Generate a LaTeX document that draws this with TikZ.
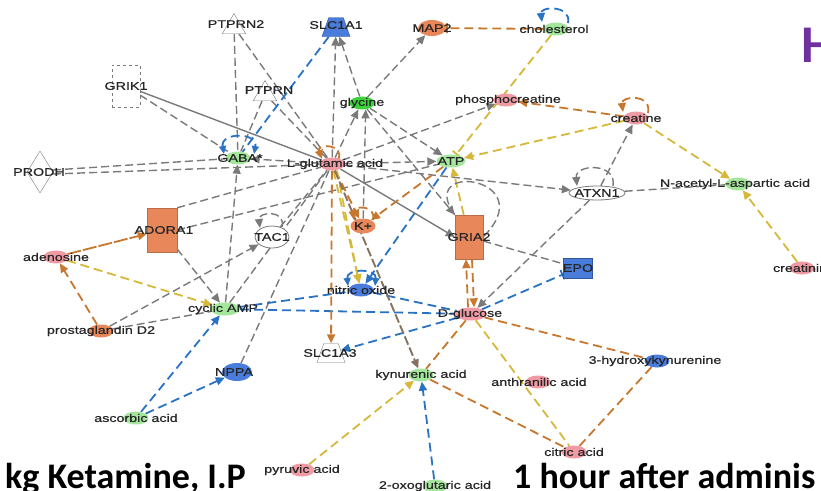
\documentclass[tikz,border=0pt]{standalone}
\usepackage{fontspec}
\setmainfont{Liberation Sans}
\newfontfamily\labfont[FakeStretch=1.3,FakeBold=0.6]{Liberation Sans}
\newfontfamily\bigfont{Carlito}
\usetikzlibrary{shapes.geometric,arrows.meta}
\pgfdeclarelayer{bg}
\pgfsetlayers{bg,main}
\definecolor{cgray}{HTML}{7A7A7A}
\definecolor{cblue}{HTML}{2A72C4}
\definecolor{corange}{HTML}{C8782E}
\definecolor{cyellow}{HTML}{D6B83A}
\definecolor{cbrown}{HTML}{857260}
\definecolor{fpink}{HTML}{F09AA4}
\definecolor{fgreen}{HTML}{A4E69C}
\definecolor{fgreenb}{HTML}{3CD23C}
\definecolor{fblue}{HTML}{4A7CDC}
\definecolor{forange}{HTML}{E8875A}
\definecolor{cpurple}{HTML}{7030A0}
\tikzset{
  lab/.style={font=\labfont\fontsize{11}{12}\selectfont, text=black!85, inner sep=0pt},
  met/.style={ellipse, minimum width=25pt, minimum height=13pt, inner sep=0pt},
  tri/.style={regular polygon, regular polygon sides=3, draw=cgray, fill=white, minimum size=27pt, inner sep=0pt},
  trap/.style={trapezium, trapezium left angle=65, trapezium right angle=65, trapezium stretches=true, minimum width=28pt, minimum height=19pt, inner sep=2pt},
  genebox/.style={rectangle, inner sep=0pt},
  eg/.style={draw=cgray, line width=1.4pt, dash pattern=on 8pt off 4pt},
  egs/.style={draw=cgray, line width=1.4pt},
  eb/.style={draw=cblue, line width=1.8pt, dash pattern=on 9pt off 5pt},
  eo/.style={draw=corange, line width=1.8pt, dash pattern=on 9pt off 5pt},
  ey/.style={draw=cyellow, line width=1.8pt, dash pattern=on 9pt off 5pt},
  ebr/.style={draw=cbrown, line width=1.9pt, dash pattern=on 9pt off 3pt},
  arr/.style={-{Triangle[length=9pt,width=8pt]}},
  arrb/.style={{Triangle[length=8pt,width=7pt]}-{Triangle[length=8pt,width=7pt]}},
  tbar/.style={-{Bar[width=10pt]}},
}
\begin{document}
\begin{tikzpicture}[x=1pt,y=-1pt]
\useasboundingbox (0,0) rectangle (821,490);
\begin{pgfonlayer}{bg}
\fill[white] (0,0) rectangle (821,490);
\end{pgfonlayer}
\clip (0,0) rectangle (821,490);

% nodes
\node[tri, label={[lab,xshift=2pt,yshift=3pt]center:PTPRN2}] (ptprn2) at (234,27) {};
\node[trap, fill=fblue, draw=fblue!70!black, label={[lab,yshift=2pt]center:SLC1A1}] (slc1a1) at (336,27) {};
\node[met, fill=forange, minimum width=28pt, minimum height=16pt, label={[lab]center:MAP2}] (map2) at (432,28) {};
\node[met, fill=fgreen, label={[lab,xshift=-2pt]center:cholesterol}] (chol) at (556,29) {};
\node[genebox, draw=cgray, dashed, fill=white, minimum width=28pt, minimum height=42pt, label={[lab]center:GRIK1}] (grik1) at (126,86) {};
\node[tri, label={[lab,xshift=4pt,yshift=4pt]center:PTPRN}] (ptprn) at (265,94) {};
\node[met, fill=fgreenb, label={[lab]center:glycine}] (gly) at (362,103) {};
\node[met, fill=fpink, label={[lab,xshift=2pt]center:phosphocreatine}] (pcr) at (506,100) {};
\node[met, fill=fpink, label={[lab]center:creatine}] (cre) at (636,118) {};
\node[diamond, draw=cgray, fill=white, minimum width=26pt, minimum height=42pt, inner sep=0pt, label={[lab,xshift=-1pt]center:PRODH}] (prodh) at (40,172) {};
\node[met, fill=fgreen, label={[lab,xshift=2pt]center:GABA*}] (gaba) at (238,158) {};
\node[met, fill=fpink, label={[lab,xshift=3pt]center:L-glutamic acid}] (glu) at (332,164) {};
\node[met, fill=fgreen, minimum width=29pt, label={[lab]center:ATP}] (atp) at (451,161) {};
\node[met, fill=white, draw=cgray, line width=0.8pt, minimum width=56pt, minimum height=14pt, label={[lab]center:ATXN1}] (atxn1) at (597,193) {};
\node[met, fill=fgreen, label={[lab,xshift=-3pt]center:N-acetyl-L-aspartic acid}] (naa) at (738,184) {};
\node[genebox, fill=forange, draw=forange!80!black, minimum width=30pt, minimum height=44pt, label={[lab,xshift=2pt]center:ADORA1}] (adora1) at (162,230) {};
\node[ellipse, draw=cgray, line width=0.8pt, fill=white, minimum width=34pt, minimum height=22pt, inner sep=0pt, label={[lab]center:TAC1}] (tac1) at (272,237) {};
\node[met, fill=forange, minimum height=15pt, label={[lab]center:K+}] (kp) at (363,226) {};
\node[genebox, fill=forange, draw=forange!80!black, minimum width=28pt, minimum height=44pt, label={[lab]center:GRIA2}] (gria2) at (469,237) {};
\node[met, fill=fpink, label={[lab]center:adenosine}] (ade) at (56,257) {};
\node[genebox, fill=fblue, draw=fblue!70!black, minimum width=29pt, minimum height=20pt, label={[lab]center:EPO}] (epo) at (578,268) {};
\node[met, fill=fpink, label={[lab,xshift=2pt]center:creatinine}] (crn) at (802,268) {};
\node[met, fill=fblue, label={[lab]center:nitric oxide}] (no) at (361,290) {};
\node[met, fill=fgreen, minimum width=30pt, label={[lab,xshift=-2pt]center:cyclic AMP}] (camp) at (225,309) {};
\node[met, fill=forange, label={[lab]center:prostaglandin D2}] (pgd2) at (101,331) {};
\node[met, fill=fpink, minimum width=31pt, label={[lab,xshift=-1pt]center:D-glucose}] (glc) at (471,314) {};
\node[trap, fill=white, draw=cgray, label={[lab,xshift=-1pt]center:SLC1A3}] (slc1a3) at (331,353) {};
\node[met, fill=fblue, label={[lab,xshift=-2pt]center:3-hydroxykynurenine}] (hk) at (657,361) {};
\node[met, fill=fblue, minimum width=30pt, minimum height=18pt, label={[lab,xshift=-3pt]center:NPPA}] (nppa) at (237,372) {};
\node[met, fill=fgreen, label={[lab]center:kynurenic acid}] (kyn) at (421,375) {};
\node[met, fill=fpink, label={[lab,xshift=1pt]center:anthranilic acid}] (anth) at (538,382) {};
\node[met, fill=fgreen, label={[lab]center:ascorbic acid}] (asc) at (136,418) {};
\node[met, fill=fpink, label={[lab]center:citric acid}] (cit) at (574,452) {};
\node[met, fill=fpink, label={[lab]center:pyruvic acid}] (pyr) at (302,470) {};
\node[met, fill=fgreen, label={[lab]center:2-oxoglutaric acid}] (oxo) at (435,486) {};

% big texts
\node[font=\bigfont\bfseries\fontsize{36}{36}\selectfont, anchor=base east, inner sep=0pt] (tleft) at (246,488) {kg Ketamine, I.P};
\node[font=\bigfont\bfseries\fontsize{36}{36}\selectfont, anchor=base west, inner sep=0pt] (tright) at (513,488) {1 hour after adminis};
\node[font=\bigfont\bfseries\fontsize{53}{53}\selectfont, text=cpurple, anchor=base west, inner sep=0pt] (th) at (801,62) {H};

\begin{pgfonlayer}{bg}
% gray
\draw[eg] (ptprn2) -- (gaba);
\draw[eg] (ptprn2) -- (glu);
\draw[eg] (ptprn) -- (gaba);
\draw[eg] (ptprn) -- (glu);
\draw[eg] (grik1) -- (gaba);
\draw[egs] (grik1) -- (glu);
\draw[eg] ([yshift=2pt]prodh.east) -- (gaba);
\draw[eg] ([yshift=-2pt]prodh.east) -- (glu);
\draw[eg,arr] (glu) -- (slc1a1);
\draw[eg,arr] (gly) -- (slc1a1);
\draw[eg,arr] (gly) -- (map2);
\draw[eg,arr] (glu) -- (gly.240);
\draw[eg,arr] (kp) -- (gly.300);
\draw[eg,arr] (glu) -- (atp);
\draw[eg,arr] (gly) -- (atp);
\draw[eg,arr] (glu) -- (pcr);
\draw[eg,arr] (glu) -- (atxn1);
\draw[eg,arr] (glu) -- (gaba);
\draw[eg,arr] (gly) -- (gria2.north west);
\draw[egs,arr] (glu) -- (gria2.west);
\draw[eg,arr] (atxn1) -- (cre);
\draw[eg] (atxn1) -- (naa);
\draw[eg,arr] (atxn1) -- (glc);
\draw[eg] (gria2) -- (epo);
\draw[eg] (adora1.north east) -- (glu);
\draw[eg] (adora1.east) -- (atp);
\draw[eg,arr] (adora1) -- (camp);
\draw[eg,arr] (pgd2) -- (tac1);
\draw[eg] (pgd2) -- (camp);
\draw[eg,arr] (camp) -- (gaba);
\draw[eg] (tac1) -- (glu);
\draw[eg] (nppa) -- (glu);
\draw[eg] (camp) -- (glu);
% blue
\draw[eb] (slc1a1) -- (gaba);
\draw[eb,arr] (atp) -- (no);
\draw[eb] (camp) -- (no);
\draw[eb] (camp) -- (glc);
\draw[eb] (no) -- (glc);
\draw[eb,arr] (glc) -- (slc1a3);
\draw[eb,tbar] (glc) -- (epo);
\draw[eb,arr] (asc) -- (camp);
\draw[eb,arr] (asc) -- (nppa);
\draw[eb,arr] (oxo) -- (kyn);
% orange
\draw[eo,arr] (glu) -- (kp);
\draw[eo,arr] (atp) -- (kp);
\draw[eo,arr] (glu) -- (slc1a3);
\draw[eo,arr] ([xshift=-3pt]glc.north) -- ([xshift=-3pt]gria2.south);
\draw[eo,arr] ([xshift=3pt]gria2.south) -- ([xshift=3pt]glc.north);
\draw[eo] (glc) -- (kyn);
\draw[eo] (glc) -- (hk);
\draw[eo] (kyn) -- (cit);
\draw[eo] (hk) -- (cit);
\draw[eo,arr] (pgd2) -- (ade);
\draw[eo,arr,dash pattern=on 14pt off 2pt] (ade) -- (adora1);
\draw[eo,tbar] (chol) -- (map2);
\draw[eo,arr] (cre) -- (pcr);
% yellow
\draw[ey,tbar] (chol) -- (atp);
\draw[ey,arr] (cre) -- (atp);
\draw[ey,arr] (cre) -- (naa);
\draw[ey,arr] (crn) -- (naa);
\draw[ey,arr] (gria2) -- (atp);
\draw[ey,arr] (glu) -- (no);
\draw[ey,arr] ([xshift=5pt]glu.south) -- ([xshift=-2pt]no.north);
\draw[ey,arr] (ade) -- (camp);
\draw[ey] (glc) -- (cit);
\draw[ey,arr] (pyr) -- (kyn);
% brown
\draw[ebr,arr] (glu) -- (kyn);
% self loops
\draw[eo,arr] ([shift={(6,-4)}]glu.center) .. controls +(8,-16) and +(-6,-16) .. ([shift={(-10,-5)}]glu.center);
\draw[eb,arrb] ([shift={(-14,-4)}]gaba.center) .. controls +(-4,-22) and +(4,-22) .. ([shift={(16,-4)}]gaba.center);
\draw[eb,arr] ([shift={(12,-6)}]chol.center) .. controls +(4,-18) and +(-2,-16) .. ([shift={(-14,-7)}]chol.center);
\draw[eo,arr] ([shift={(12,-5)}]cre.center) .. controls +(4,-20) and +(-2,-16) .. ([shift={(-13,-6)}]cre.center);
\draw[eo,arr] ([shift={(10,-6)}]kp.center) .. controls +(4,-16) and +(-2,-14) .. ([shift={(-9,-6)}]kp.center);
\draw[eb,arrb] ([shift={(-13,-4)}]no.center) .. controls +(-2,-18) and +(2,-18) .. ([shift={(14,-4)}]no.center);
\draw[eg,arr] ([shift={(16,-7)}]atxn1.center) .. controls +(4,-24) and +(-2,-22) .. ([shift={(-20,-7)}]atxn1.center);
\draw[eg,arr] ([shift={(10,-10)}]tac1.center) .. controls +(4,-18) and +(-2,-16) .. ([shift={(-12,-9)}]tac1.center);
\draw[eg] (gria2.north west) .. controls +(-40,-55) and +(60,-60) .. (gria2.east);
\end{pgfonlayer}
\end{tikzpicture}
\end{document}
